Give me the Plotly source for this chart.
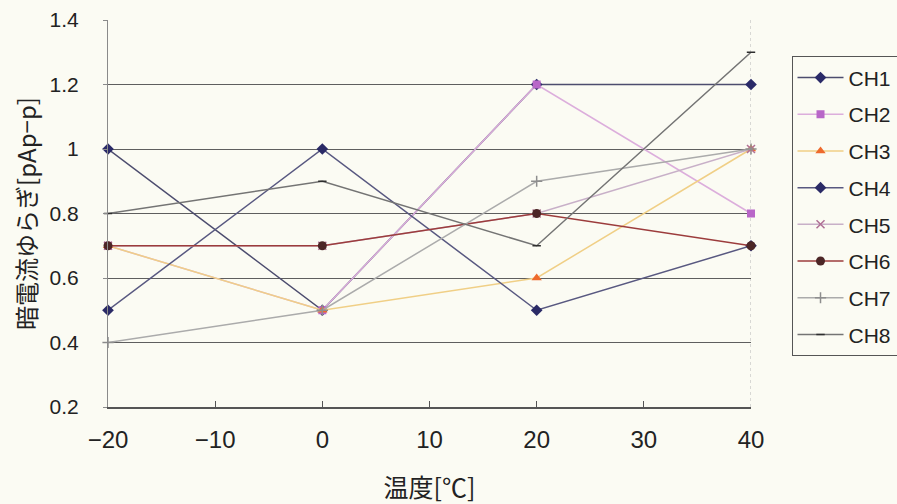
import plotly.graph_objects as go

# Temperature points [°C]
temperature = [-20, 0, 20, 40]

# Dark-current fluctuation per channel [pAp-p]
ch1 = [1.0, 0.5, 1.2, 1.2]
ch2 = [0.7, 0.5, 1.2, 0.8]
ch3 = [0.7, 0.5, 0.6, 1.0]
ch4 = [0.5, 1.0, 0.5, 0.7]
ch5 = [0.7, 0.7, 0.8, 1.0]
ch6 = [0.7, 0.7, 0.8, 0.7]
ch7 = [0.4, 0.5, 0.9, 1.0]
ch8 = [0.8, 0.9, 0.7, 1.3]

channel_names = ["CH1", "CH2", "CH3", "CH4", "CH5", "CH6", "CH7", "CH8"]
channel_values = [ch1, ch2, ch3, ch4, ch5, ch6, ch7, ch8]

x_tick_vals = [-20, -10, 0, 10, 20, 30, 40]
x_tick_text = ["\u221220", "\u221210", "0", "10", "20", "30", "40"]
y_tick_vals = [0.2, 0.4, 0.6, 0.8, 1.0, 1.2, 1.4]
y_tick_text = ["0.2", "0.4", "0.6", "0.8", "1", "1.2", "1.4"]

# line colour, marker colour, marker symbol, marker size
styles = [
    ("#4c4c6e", "#2a2a68", "diamond", 9),
    ("#dcaedc", "#b866c8", "square", 8),
    ("#f0cf86", "#ee6a2c", "triangle-up", 9),
    ("#585880", "#2a2a66", "diamond", 9),
    ("#c8b0c8", "#b07096", "x-thin-open", 8),
    ("#9c3c3c", "#4c2626", "circle", 9),
    ("#ababab", "#8e8e8e", "cross-thin-open", 8),
    ("#747474", "#2e2e2e", "line-ew-open", 6),
]

BG = "#fbfbf3"
fig = go.Figure()

for name, vals, (lc, mc, sym, ms) in zip(channel_names, channel_values, styles):
    fig.add_trace(go.Scatter(
        x=temperature, y=vals, name=name, mode="lines+markers",
        legendgroup=name,
        line=dict(color=lc, width=1.5),
        marker=dict(symbol=sym, size=ms, color=mc,
                    line=dict(color=mc, width=1.5 if "open" in sym else 0)),
        cliponaxis=False,
    ))

# dotted right edge of the plot area
fig.add_shape(type="line", xref="x", yref="paper", x0=40, x1=40, y0=0, y1=1,
              line=dict(color="#b4b4b4", width=1, dash="dot"), layer="below")

fig.update_layout(
    width=897, height=504,
    margin=dict(l=108, r=146, t=20, b=97, autoexpand=False),
    paper_bgcolor=BG, plot_bgcolor=BG,
    font=dict(family="Liberation Sans, Arial, sans-serif", color="#222222"),
    showlegend=True,
    legend=dict(
        x=1.063, y=0.906, xanchor="left", yanchor="top",
        bordercolor="#555555", borderwidth=1, bgcolor=BG,
        font=dict(size=21, family="Liberation Sans, Arial, sans-serif", color="#222222"),
        traceorder="grouped", tracegroupgap=6.4, itemwidth=46,
    ),
    xaxis=dict(
        range=[-20, 40], tickmode="array", tickvals=x_tick_vals, ticktext=x_tick_text,
        showgrid=False, zeroline=False,
        showline=True, linecolor="#555555", linewidth=1.5,
        ticks="inside", ticklen=6, tickcolor="#555555",
        tickfont=dict(size=24, family="Liberation Sans Narrow, Arial Narrow, sans-serif", color="#222222"),
        ticklabelstandoff=10,
        title=dict(text="温度[℃]", standoff=28,
                   font=dict(size=25, family="Noto Sans CJK JP, sans-serif", color="#222222")),
    ),
    yaxis=dict(
        range=[0.2, 1.4], tickmode="array", tickvals=y_tick_vals, ticktext=y_tick_text,
        showgrid=True, gridcolor="#5e5e5e", gridwidth=1, zeroline=False,
        showline=True, linecolor="#8a8a8a", linewidth=1,
        ticks="outside", ticklen=4, tickcolor="#8a8a8a",
        tickfont=dict(size=21, color="#222222"),
        ticklabelstandoff=20,
        title=dict(text="暗電流ゆらぎ[pAp−p]", standoff=6,
                   font=dict(size=24, family="Noto Sans CJK JP, sans-serif", color="#222222")),
    ),
)

fig.write_html("out.html")
